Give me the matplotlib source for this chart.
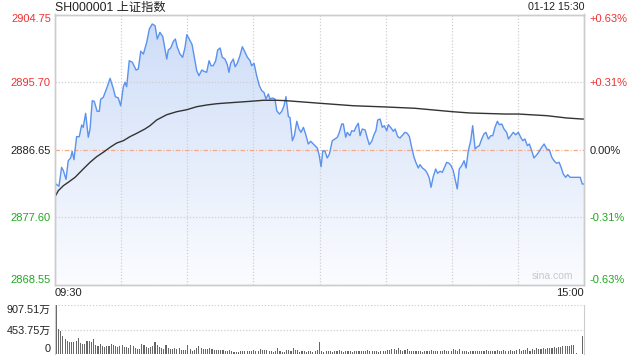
import numpy as np
import matplotlib
matplotlib.use('Agg')
import matplotlib.pyplot as plt
from matplotlib.colors import to_rgb

plt.rcParams['font.family'] = ['Liberation Sans', 'Noto Sans CJK SC']

# --- data (minutes after 09:30, index points) ---
prev_close = 2886.65
y_ticks = [2868.55, 2877.60, 2886.65, 2895.70, 2904.75]

price_t = [0.0, 1.8, 3.0, 3.8, 5.0, 6.0, 7.1, 7.8, 8.6, 9.8, 11.0, 12.1, 12.8, 13.9, 15.1,
           15.9, 16.9, 17.8, 19.1, 20.1, 20.7, 21.9, 23.5, 25.0, 26.5, 27.4, 28.7, 29.8, 31.0,
           31.8, 32.5, 33.7, 35.1, 36.8, 37.8, 38.9, 40.1, 41.6, 42.8, 44.1, 45.4, 46.4, 47.6,
           48.9, 49.9, 50.7, 51.4, 52.5, 53.7, 54.6, 55.5, 56.7, 57.9, 59.0, 59.8, 60.9, 62.2,
           63.2, 64.3, 65.3, 66.6, 67.6, 68.8, 69.9, 70.8, 71.8, 72.9, 73.8, 74.9, 75.9, 77.1,
           78.2, 78.9, 79.7, 80.9, 81.7, 82.7, 83.9, 85.0, 86.2, 87.3, 88.5, 89.2, 90.3, 91.5,
           92.7, 93.8, 94.8, 95.7, 96.8, 97.5, 98.6, 99.8, 100.6, 101.8, 102.9, 103.9, 104.8,
           105.9, 106.6, 107.7, 108.6, 109.7, 110.7, 111.6, 112.7, 113.8, 114.9, 116.0, 116.9,
           118.0, 119.0, 119.9, 120.7, 121.5, 122.5, 123.5, 124.5, 125.8, 127.0, 128.1, 129.0,
           130.1, 130.8, 131.9, 132.6, 133.8, 134.6, 135.7, 136.6, 137.6, 138.4, 139.4, 140.7,
           141.7, 142.6, 143.7, 144.7, 145.6, 146.4, 147.5, 148.5, 149.4, 150.5, 151.2, 152.5,
           153.5, 154.3, 155.5, 156.5, 157.8, 158.8, 159.8, 160.8, 161.8, 162.9, 163.7, 164.8,
           165.6, 166.7, 167.9, 168.9, 169.8, 170.6, 171.6, 172.7, 173.6, 174.7, 175.7, 176.6,
           177.7, 178.8, 179.7, 180.7, 181.5, 182.5, 183.4, 184.5, 185.6, 186.5, 187.5, 188.6,
           189.5, 190.6, 191.6, 192.5, 193.6, 194.6, 195.5, 196.6, 197.7, 198.6, 199.6, 200.7,
           201.6, 202.7, 203.7, 204.9, 205.7, 206.8, 207.9, 209.0, 210.2, 211.3, 212.2, 213.2,
           214.3, 215.2, 216.3, 217.3, 218.6, 219.7, 220.8, 221.9, 223.1, 224.3, 225.4, 226.4,
           227.6, 228.7, 229.6, 230.6, 231.7, 232.6, 233.7, 236.0, 238.3, 239.2, 240.0]
price = [2882.16, 2881.76, 2884.30, 2883.85, 2882.69, 2885.18, 2885.55, 2886.44, 2885.32,
         2888.40, 2888.40, 2889.96, 2889.65, 2891.53, 2888.32, 2889.43, 2893.21, 2893.13,
         2891.80, 2891.80, 2893.40, 2893.67, 2894.91, 2896.21, 2894.78, 2893.75, 2893.58,
         2892.54, 2895.09, 2895.68, 2895.09, 2898.57, 2898.35, 2897.32, 2897.46, 2899.83,
         2899.46, 2901.03, 2902.81, 2903.48, 2903.25, 2901.47, 2902.37, 2901.78, 2900.13,
         2898.79, 2900.00, 2900.27, 2901.16, 2901.47, 2900.36, 2899.46, 2899.02, 2900.36,
         2902.05, 2901.47, 2900.71, 2899.02, 2897.23, 2896.56, 2897.32, 2897.15, 2897.01,
         2898.57, 2897.90, 2897.90, 2898.57, 2900.00, 2900.27, 2899.02, 2898.79, 2898.03,
         2897.01, 2898.22, 2898.79, 2897.76, 2898.22, 2899.24, 2900.44, 2899.69, 2899.02,
         2898.57, 2897.90, 2898.22, 2896.56, 2895.22, 2894.55, 2894.34, 2893.44, 2894.11,
         2893.44, 2893.58, 2893.44, 2891.88, 2891.43, 2891.80, 2892.54, 2893.75, 2891.07,
         2890.99, 2887.86, 2888.53, 2890.46, 2889.43, 2888.98, 2889.65, 2888.66, 2887.42,
         2887.78, 2887.51, 2887.19, 2886.88, 2885.85, 2884.38, 2886.52, 2886.44, 2885.55,
         2886.08, 2887.86, 2888.09, 2888.32, 2888.98, 2890.10, 2890.10, 2888.32, 2888.98,
         2888.53, 2889.20, 2889.12, 2889.73, 2890.19, 2888.53, 2889.43, 2889.29, 2888.22,
         2887.33, 2887.78, 2888.66, 2889.20, 2890.63, 2890.76, 2889.65, 2889.87, 2889.20,
         2890.00, 2889.56, 2889.12, 2889.43, 2888.40, 2888.22, 2888.66, 2888.98, 2888.85,
         2888.40, 2886.98, 2885.64, 2884.97, 2884.21, 2884.65, 2884.21, 2883.94, 2883.50,
         2882.87, 2881.62, 2883.04, 2884.07, 2883.50, 2883.77, 2883.63, 2884.21, 2884.97,
         2884.84, 2884.51, 2883.85, 2882.73, 2881.40, 2884.07, 2884.51, 2885.18, 2884.21,
         2886.52, 2887.86, 2889.87, 2886.75, 2887.06, 2887.19, 2888.09, 2888.76, 2888.98,
         2888.09, 2888.53, 2888.53, 2889.65, 2890.46, 2890.00, 2890.10, 2889.43, 2888.98,
         2888.09, 2888.53, 2888.98, 2888.66, 2888.98, 2888.32, 2887.86, 2888.09, 2887.19,
         2887.42, 2886.52, 2885.55, 2885.99, 2886.44, 2886.98, 2887.42, 2886.75, 2886.62,
         2885.64, 2885.18, 2884.84, 2884.97, 2884.30, 2883.40, 2882.96, 2883.31, 2882.96,
         2882.96, 2882.96, 2882.07, 2882.07]

avg_t = [0.0, 1.5, 3.8, 6.0, 9.1, 12.8, 15.9, 18.9, 21.9, 25.0, 28.0, 31.0, 34.0, 37.1,
         40.8, 43.1, 46.1, 50.7, 55.2, 59.8, 64.3, 68.8, 73.4, 77.9, 88.5, 94.5, 100.6,
         105.1, 112.7, 120.2, 135.3, 150.5, 163.3, 180.4, 188.3, 204.2, 210.2, 223.1,
         232.2, 239.2, 240.0]
avg_price = [2880.37, 2881.17, 2881.84, 2882.29, 2882.96, 2884.07, 2884.97, 2885.72,
             2886.31, 2886.98, 2887.55, 2887.86, 2888.40, 2888.85, 2889.43, 2889.87,
             2890.63, 2891.34, 2891.74, 2892.01, 2892.41, 2892.64, 2892.81, 2892.91,
             2893.13, 2893.27, 2893.27, 2893.21, 2893.04, 2892.87, 2892.54, 2892.37,
             2892.20, 2891.74, 2891.57, 2891.43, 2891.43, 2891.21, 2890.90, 2890.76,
             2890.76]

# volume per minute, in 万
volume = [907, 463, 426, 335, 280, 238, 225, 225, 225, 244, 298, 207, 189, 189, 244, 238,
          225, 280, 170, 158, 189, 152, 140, 146, 152, 189, 170, 152, 140, 152, 170, 134,
          134, 122, 164, 152, 116, 97, 97, 189, 164, 134, 122, 140, 158, 225, 170, 134,
          122, 103, 170, 110, 103, 103, 116, 103, 116, 85, 85, 85,
          170, 97, 67, 79, 122, 152, 116, 97, 97, 97, 116, 97, 79, 79, 79, 79, 79, 67, 67,
          79, 67, 49, 49, 49, 67, 67, 61, 61, 61, 61, 79, 61, 61, 97, 79, 79, 79, 61, 61,
          49, 67, 116, 61, 49, 49, 79, 79, 61, 116, 79, 79, 49, 61, 61, 49, 61, 61, 49, 67,
          85, 225,
          61, 49, 67, 61, 61, 49, 67, 61, 79, 61, 49, 61, 67, 61, 49, 61, 67, 61, 55, 61,
          67, 79, 61, 67, 55, 61, 49, 61, 67, 61,
          79, 85, 92, 98, 79, 110, 85, 67, 79, 92, 61, 67, 61, 55, 61, 61, 49, 67, 61, 61,
          79, 67, 61, 55, 61, 67, 79, 67, 61, 67,
          92, 79, 67, 92, 61, 55, 67, 49, 61, 55, 61, 61, 67, 61, 61, 79, 67, 61, 67, 61,
          79, 61, 67, 79, 61, 67, 85, 67, 67, 79,
          92, 67, 85, 79, 110, 67, 92, 79, 110, 92, 98, 110, 92, 116, 110, 122, 128, 116,
          134, 140, 146, 152, 146, 158, 164, 172,
          20, 0, 0, 337]
vol_ticks = [0, 453.75, 907.51]
vol_labels = ['0', '453.75万', '907.51万']

RED = '#f03232'
GREEN = '#20a820'
BLUE = '#5a92ee'
GRID = '#cfcfcf'
SPINE = '#cccccc'

W, H = 640, 360
fig = plt.figure(figsize=(6.4, 3.6), dpi=100)
ax = fig.add_axes([55 / W, 1 - 285 / H, 529 / W, 270.5 / H])
vax = fig.add_axes([55 / W, 1 - 354.3 / H, 529 / W, 49.3 / H])

ylo, yhi = y_ticks[0], y_ticks[-1]
ax.set_xlim(0, 240)
ax.set_ylim(ylo, yhi)

# gradient fill under the price line
poly = ax.fill_between(price_t, price, ylo, color='none', lw=0)
top_c, bot_c = np.array(to_rgb('#ccdcf7')), np.array(to_rgb('#fbfcff'))
grad = np.linspace(0, 1, 256)[:, None]
img = top_c * (1 - grad)[..., None] + bot_c * grad[..., None]
im = ax.imshow(img, extent=[0, 240, ylo, yhi], aspect='auto', origin='upper', zorder=1)
im.set_clip_path(poly.get_paths()[0], transform=ax.transData)

# grid
for xv in range(30, 240, 30):
    ax.axvline(xv, color=GRID, lw=0.9, ls=(0, (1, 1.5)), zorder=2)
for yv in y_ticks[1:-1]:
    if yv == prev_close:
        ax.axhline(yv, color='#f2aa88', lw=0.9, ls=(0, (3.6, 1.5, 0.8, 1.5)), zorder=2)
    else:
        ax.axhline(yv, color=GRID, lw=0.9, ls=(0, (1, 1.5)), zorder=2)

ax.plot(price_t, price, color=BLUE, lw=1, zorder=4)
ax.plot(avg_t, avg_price, color='#333333', lw=1, zorder=4)

def tick_color(v):
    if v > prev_close:
        return RED
    if v < prev_close:
        return GREEN
    return '#222222'

ax.set_xticks([])
ax.set_yticks(y_ticks)
ax.set_yticklabels([f'{v:.2f}' for v in y_ticks], fontsize=8)
ax.tick_params(axis='y', length=0, pad=3)
for lab, v in zip(ax.get_yticklabels(), y_ticks):
    lab.set_color(tick_color(v))
ax.get_yticklabels()[0].set_va('bottom')
ax.get_yticklabels()[-1].set_va('top')

rax = ax.twinx()
rax.set_ylim(ylo, yhi)
rax.set_yticks(y_ticks)
pct_labels = []
for v in y_ticks:
    pct = (v / prev_close - 1) * 100
    pct_labels.append('0.00%' if abs(pct) < 0.005 else f'{pct:+.2f}%')
rax.set_yticklabels(pct_labels, fontsize=8)
rax.tick_params(axis='y', length=0, pad=4)
for lab, v in zip(rax.get_yticklabels(), y_ticks):
    lab.set_color(tick_color(v))
rax.get_yticklabels()[0].set_va('bottom')
rax.get_yticklabels()[-1].set_va('top')

for a in (ax, rax):
    for s in a.spines.values():
        s.set_color(SPINE)
        s.set_linewidth(1)

ax.text(0.98, 0.015, 'sina.com', transform=ax.transAxes, ha='right', va='bottom',
        fontsize=7.5, color='#c8c8c8', zorder=5)

# volume panel
vt = np.arange(len(volume))
vax.bar(vt, volume, width=0.5, color='#666666', lw=0)
vax.set_xlim(-0.6, 240.6)
vax.set_ylim(0, vol_ticks[-1])
vax.set_xticks([])
vax.set_yticks(vol_ticks)
vax.set_yticklabels(vol_labels, fontsize=7.8)
vax.tick_params(axis='y', length=0, pad=3, colors='#222222')
vax.get_yticklabels()[0].set_va('bottom')
vax.get_yticklabels()[-1].set_va('top')
for yv in vol_ticks[1:]:
    vax.axhline(yv, color=GRID, lw=0.9, ls=(0, (1, 1.5)), zorder=0)
vax.spines['top'].set_visible(False)
vax.spines['bottom'].set_visible(False)
for s in ('left', 'right'):
    vax.spines[s].set_color(SPINE)

# header / time labels
fig.text(55 / W, 1 - 7.5 / H, 'SH000001 上证指数', fontsize=8.8, va='center', ha='left',
         color='#222222')
fig.text(584 / W, 1 - 7.5 / H, '01-12 15:30', fontsize=7.7, va='center', ha='right',
         color='#222222')
fig.text(55 / W, 1 - 293 / H, '09:30', fontsize=8, va='center', ha='left', color='#222222')
fig.text(584 / W, 1 - 293 / H, '15:00', fontsize=8, va='center', ha='right', color='#222222')

fig.savefig('out.png', dpi=100)
